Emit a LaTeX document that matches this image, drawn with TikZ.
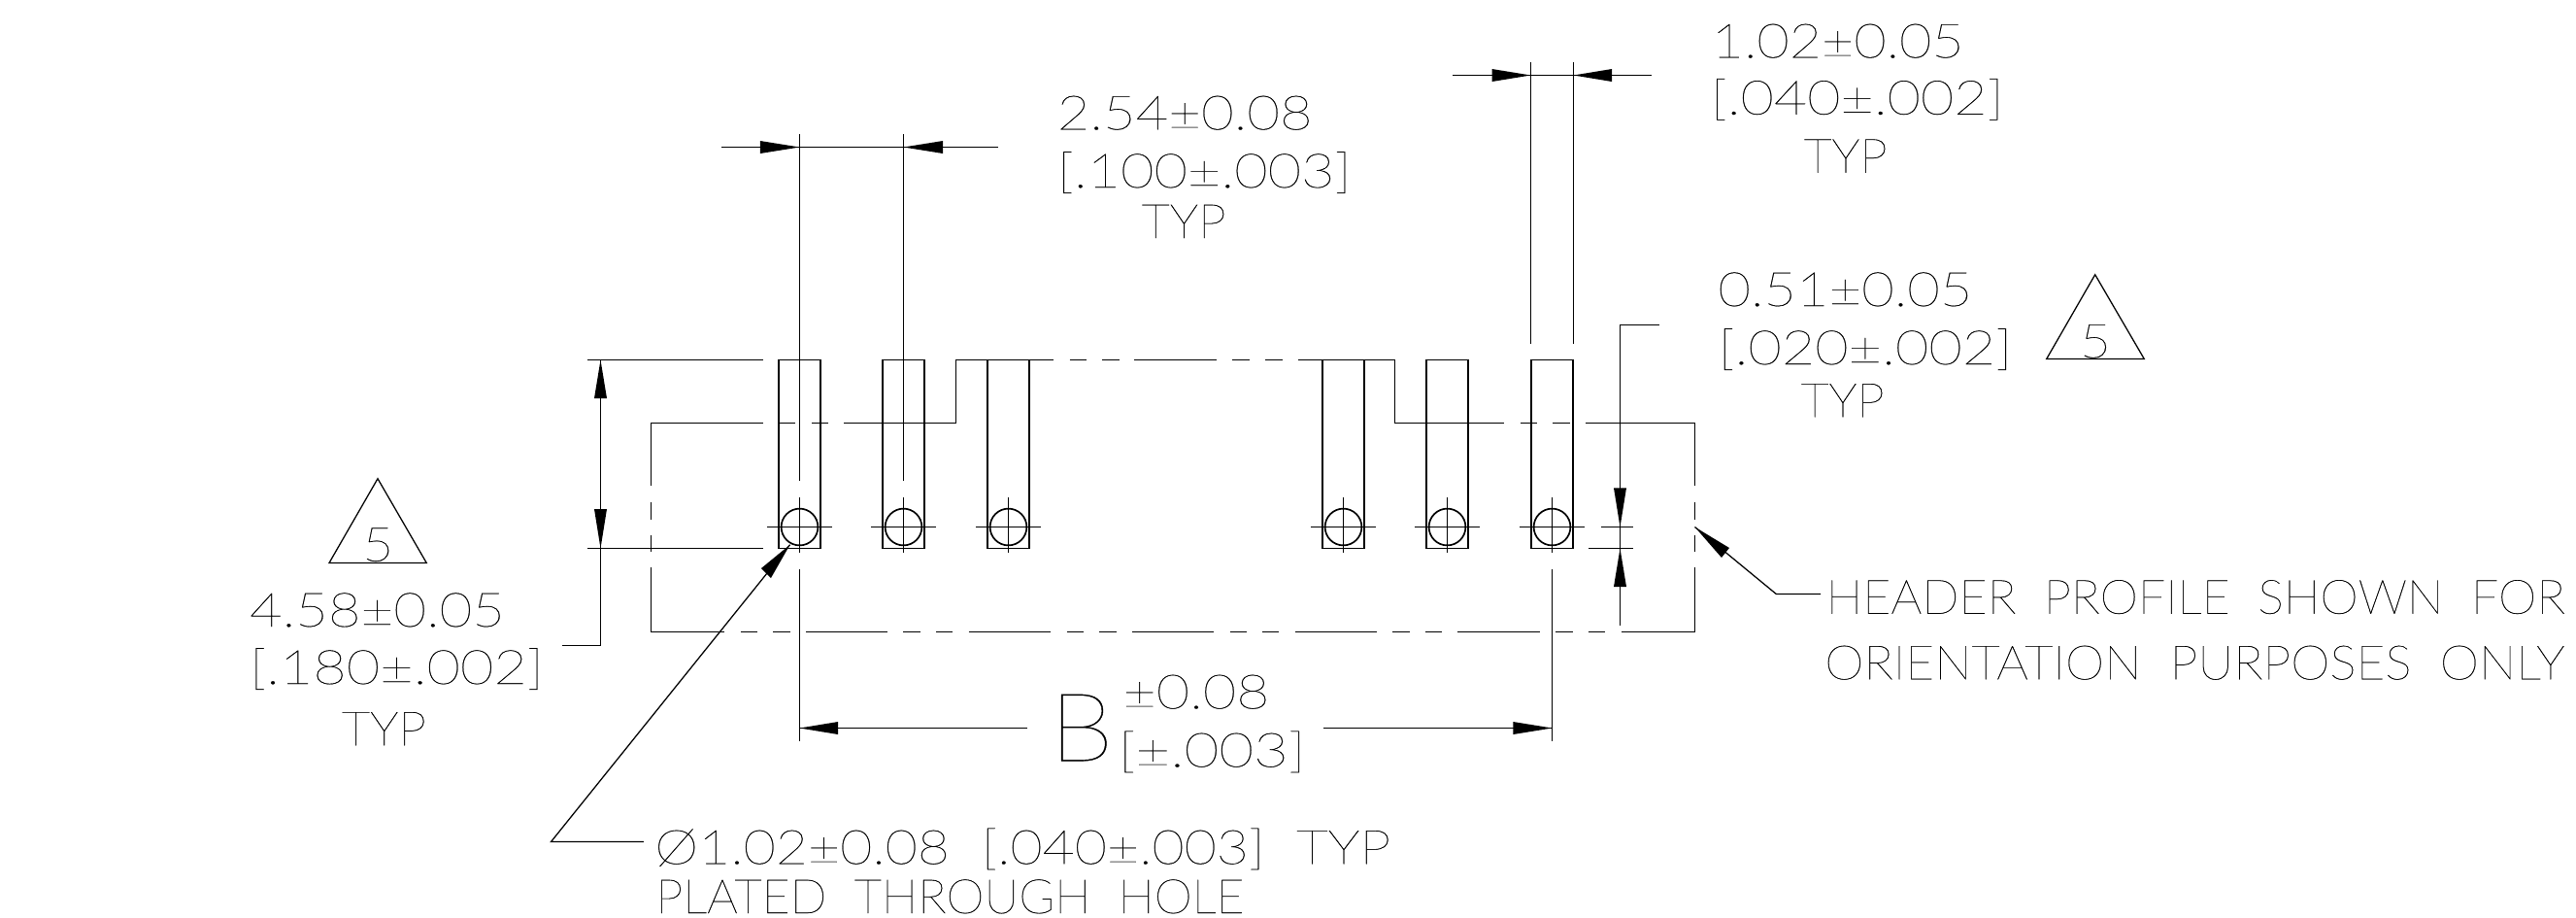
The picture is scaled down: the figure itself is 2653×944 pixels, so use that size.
\documentclass[tikz,border=0pt]{standalone}
\usepackage{graphicx}
\usepackage{fontspec}
\setmainfont{Lato Thin}[RawFeature={embolden=0.4}]
\newcommand{\fitw}[2]{\resizebox{#1\dimexpr0.01cm\relax}{\height}{#2}}
\tikzset{
  pinline/.style={black,line width=0.48pt},
  thinline/.style={black,line width=0.36pt},
  dimtext/.style={anchor=base west,inner sep=0pt,font=\fontsize{13.9}{16}\selectfont},
  bigtext/.style={anchor=base west,inner sep=0pt,font=\fontsize{27.8}{30}\selectfont}
}
\begin{document}
\begin{tikzpicture}[x=0.01cm,y=-0.01cm]
\useasboundingbox (0,0) rectangle (2653,944);
\foreach \cx in {823.5,930.5,1038.5,1383.5,1490.5,1598.5} {
  \draw [pinline] (\cx-21.5,370.5) rectangle (\cx+21.5,564.5);
  \draw [pinline] (\cx,542.5) circle (18.9);
  \draw [thinline] (\cx-33.7,542.5) -- (\cx+33.7,542.5);
  \draw [thinline] (\cx,511.7) -- (\cx,569.3);
}
\draw [thinline] (670.5,500.3) -- (670.5,435.5) -- (786,435.5) (802.1,435.5) -- (818.9,435.5) (836,435.5) -- (852.9,435.5) (869.3,435.5) -- (984.5,435.5) -- (984.5,370.5) -- (1085.4,370.5);
\draw [thinline] (1101.7,370.5) -- (1119,370.5) (1135,370.5) -- (1152.7,370.5) (1168.3,370.5) -- (1252.7,370.5) (1269.3,370.5) -- (1286.7,370.5) (1303.3,370.5) -- (1320.7,370.5);
\draw [thinline] (1336.7,370.5) -- (1436.5,370.5) -- (1436.5,435.5) -- (1548.9,435.5) (1566,435.5) -- (1582.9,435.5) (1599.3,435.5) -- (1616.8,435.5) (1632.9,435.5) -- (1745.5,435.5) -- (1745.5,500.3);
\draw [thinline] (670.5,517.3) -- (670.5,535) (670.5,551) -- (670.5,568.3) (670.5,584.3) -- (670.5,650.5) -- (745.7,650.5);
\draw [thinline] (1745.5,517.3) -- (1745.5,535) (1745.5,551) -- (1745.5,568.3) (1745.5,584.3) -- (1745.5,650.5) -- (1669.6,650.5);
\foreach \xa/\xb in {762.9/779.6,796.4/813.6,830.4/913.6,930.4/947.5,964.3/981.4,997.5/1082.1,1098.6/1115.7,1132.4/1149.5,1165.5/1250,1266.5/1283.5,1300/1317.1,1333.6/1417.9,1434.3/1451.8,1467.9/1485.4,1501.4/1585.7,1602.1/1619.6,1635.7/1652.9}
  \draw [thinline] (\xa,650.5) -- (\xb,650.5);
\foreach \cx in {823.5,930.5} \draw [thinline] (\cx,138.3) -- (\cx,495);
\foreach \cx in {823.5,1598.5} \draw [thinline] (\cx,586) -- (\cx,762.7);
\draw [thinline] (743,151.5) -- (1027.6,151.5);
\fill [black] (823.5,151.5) -- (782.9,145) -- (782.9,158);
\fill [black] (930.5,151.5) -- (971,145) -- (971,158);
\foreach \cx in {1576.5,1620.5} \draw [thinline] (\cx,64) -- (\cx,354);
\draw [thinline] (1496,77.5) -- (1700.8,77.5);
\fill [black] (1576.5,77.5) -- (1536.6,71) -- (1536.6,84);
\fill [black] (1620.5,77.5) -- (1660,71) -- (1660,84);
\draw [thinline] (605.4,370.5) -- (785.7,370.5) (605.4,564.5) -- (785.7,564.5);
\draw [thinline] (618.5,370.5) -- (618.5,664.5) -- (578.6,664.5);
\fill [black] (618.5,370.5) -- (612,410) -- (625,410);
\fill [black] (618.5,564.5) -- (612,524) -- (625,524);
\draw [thinline] (1708.6,334.5) -- (1668.5,334.5) -- (1668.5,644);
\draw [thinline] (1648.6,542.5) -- (1682.1,542.5) (1636.4,564.5) -- (1682.1,564.5);
\fill [black] (1668.5,542.5) -- (1662,502.3) -- (1675,502.3);
\fill [black] (1668.5,564.5) -- (1662,604) -- (1675,604);
\draw [thinline] (1745.5,542.5) -- (1829.3,611.5) -- (1875,611.5);
\fill [black] (1745.5,542.5) -- (1773,574) -- (1781,564);
\draw [thinline] (662.8,866.5) -- (567.5,866.5) -- (813.6,560.7);
\fill [black] (813.6,560.7) -- (784,585) -- (794,595);
\draw [thinline] (823.5,749.5) -- (1058.4,749.5) (1363.2,749.5) -- (1598.5,749.5);
\fill [black] (823.5,749.5) -- (863,743) -- (863,756);
\fill [black] (1598.5,749.5) -- (1558.4,743) -- (1558.4,756);
\draw [thinline] (2157.7,282.7) -- (2107.7,369.5) -- (2208.3,369.5) -- cycle;
\draw [thinline] (389,492.7) -- (339,579.5) -- (439.3,579.5) -- cycle;
\node (pitcha) [dimtext] at (1088,133.3) {\fitw{263}{2.54±0.08}};
\node (pitchb) [dimtext] at (1088,193) {\fitw{303}{[.100±.003]}};
\node (pitchc) [dimtext] at (1175,245) {\fitw{87}{TYP}};
\node (widtha) [dimtext] at (1762,59.3) {\fitw{260}{1.02±0.05}};
\node (widthb) [dimtext] at (1761,117.7) {\fitw{302}{[.040±.002]}};
\node (widthc) [dimtext] at (1857,177.7) {\fitw{86}{TYP}};
\node (tipa) [dimtext] at (1768.7,315) {\fitw{262}{0.51±0.05}};
\node (tipb) [dimtext] at (1768.7,375) {\fitw{303}{[.020±.002]}};
\node (tipc) [dimtext] at (1854,429.3) {\fitw{86}{TYP}};
\node (notea) [dimtext,anchor=base] at (2158,368.3) {\fitw{32}{5}};
\node (noteb) [dimtext,anchor=base] at (389.3,577.7) {\fitw{32}{5}};
\node (lena) [dimtext] at (256.3,645) {\fitw{263}{4.58±0.05}};
\node (lenb) [dimtext] at (256.3,704) {\fitw{303}{[.180±.002]}};
\node (lenc) [dimtext] at (351.3,767.3) {\fitw{87}{TYP}};
\node (spanb) [bigtext] at (1080,783.3) {\fitw{66}{B}};
\node (spana) [dimtext] at (1155.8,729.3) {\fitw{151}{±0.08}};
\node (spanc) [dimtext] at (1151,789.3) {\fitw{193}{[±.003]}};
\node (holea) [dimtext] at (673.6,889.3) {\fitw{758}{Ø1.02±0.08~~[.040±.003]~~TYP}};
\node (holeb) [dimtext] at (674.8,940) {\fitw{606}{PLATED~~THROUGH~~HOLE}};
\node (heada) [dimtext] at (1880,631.7) {\fitw{761}{HEADER~~PROFILE~~SHOWN~~FOR}};
\node (headb) [dimtext] at (1878.6,699.3) {\fitw{762}{ORIENTATION~~PURPOSES~~ONLY}};
\end{tikzpicture}
\end{document}
